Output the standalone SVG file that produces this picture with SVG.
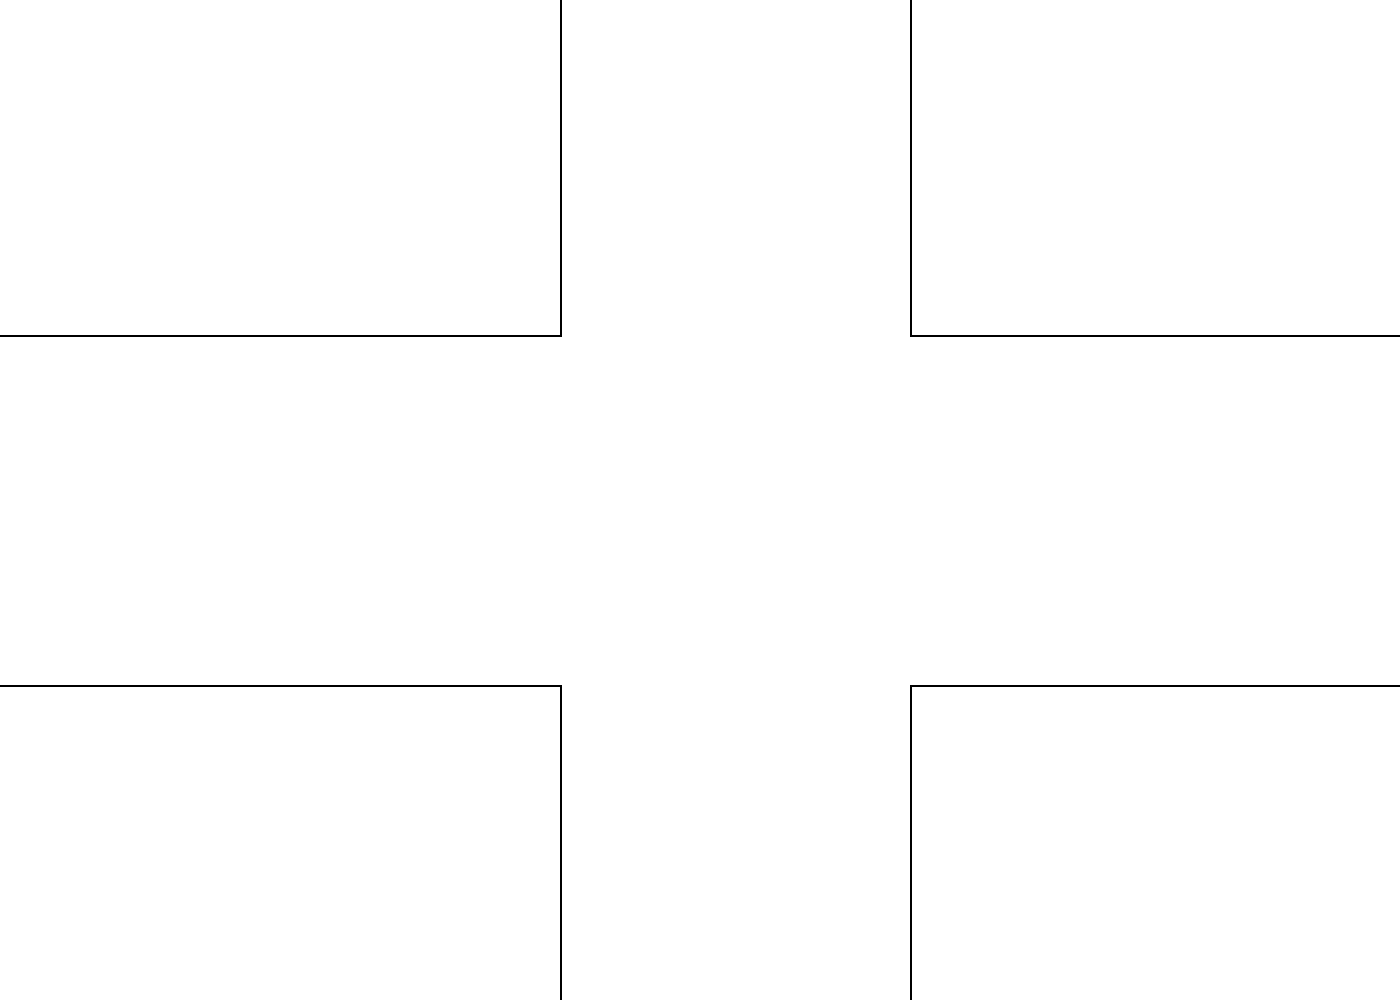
<svg xmlns="http://www.w3.org/2000/svg" width="1400" height="1000" viewBox="0 0 1400 1000">
<style>
.blk{fill:#ffffff;stroke:#000000;stroke-width:2}
</style>
<rect x="0" y="0" width="1400" height="1000" fill="#ffffff"/>
<g id="block-top-left"><rect class="blk" x="-10" y="-10" width="571" height="346"/></g>
<g id="block-top-right"><rect class="blk" x="911" y="-10" width="499" height="346"/></g>
<g id="block-bottom-left"><rect class="blk" x="-10" y="686" width="571" height="324"/></g>
<g id="block-bottom-right"><rect class="blk" x="911" y="686" width="499" height="324"/></g>
<g id="connectors"></g>
</svg>
